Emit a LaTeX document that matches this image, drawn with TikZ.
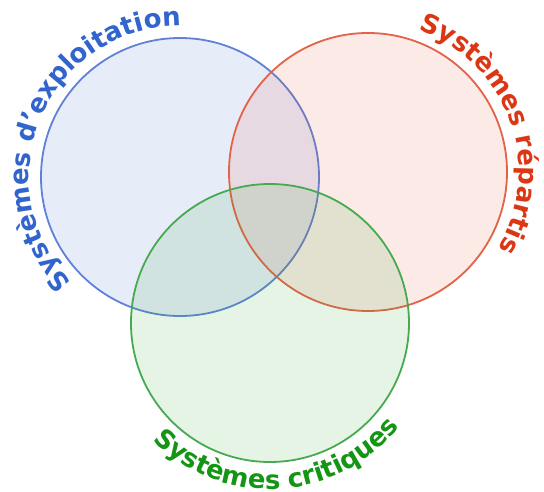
\documentclass[tikz,border=0pt]{standalone}
\usepackage{fontspec}
\setmainfont{DejaVu Sans}[Ligatures=ResetAll]
\usetikzlibrary{decorations.text}

\definecolor{explline}{RGB}{95,130,215}
\definecolor{explfill}{RGB}{70,110,210}
\definecolor{explfont}{RGB}{50,100,205}
\definecolor{repline}{RGB}{228,98,72}
\definecolor{repfill}{RGB}{225,90,60}
\definecolor{repfont}{RGB}{220,55,20}
\definecolor{critline}{RGB}{70,170,80}
\definecolor{critfill}{RGB}{60,170,60}
\definecolor{critfont}{RGB}{20,150,20}

\begin{document}
\begin{tikzpicture}[x=1pt,y=1pt,
    setcircle/.style 2 args={circle, draw=#1, fill=#2, fill opacity=0.13,
      line width=1.8pt, minimum size=278pt, inner sep=0pt},
    arclabel/.style 2 args={decorate, decoration={text along path,
        text align=center, text color=#1,
        text={|\bfseries\fontsize{26}{26}\selectfont|#2}}}]

    \useasboundingbox (0,0) rectangle (544,491);

    \node[setcircle={explline}{explfill}] (expl) at (180,314) {};
    \node[setcircle={repline}{repfill}]   (rep)  at (368,319) {};
    \node[setcircle={critline}{critfill}] (crit) at (270,168) {};

    \path[arclabel={explfont}{Systèmes d{\char39}exploitation}]
      (expl.center) ++(237:151) arc[start angle=237, end angle=77, radius=151];
    \path[arclabel={repfont}{Systèmes répartis}]
      (rep.center) ++(82:151) arc[start angle=82, end angle=-42, radius=151];
    \path[arclabel={critfont}{Systèmes critiques}]
      (crit.center) ++(205:166) arc[start angle=205, end angle=341, radius=166];

\end{tikzpicture}
\end{document}
